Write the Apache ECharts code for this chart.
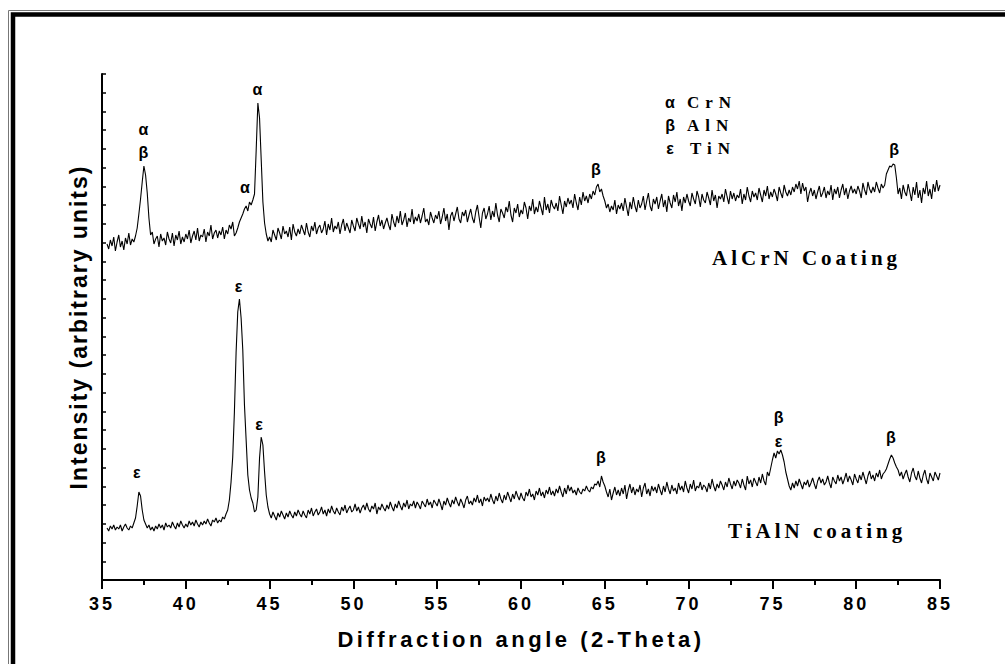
<!DOCTYPE html>
<html>
<head>
<meta charset="utf-8">
<script src="https://cdn.jsdelivr.net/npm/echarts@6.0.0/dist/echarts.min.js"></script>
<style>
  html, body { margin: 0; padding: 0; background: #fff; }
  #chart { width: 1005px; height: 664px; }
  /* spaced-out lettering like the original figure */
  #chart text[style*="22px"] { letter-spacing: 3.5px; }
  #chart text[style*="23px"] { letter-spacing: 2px; }
  #chart text[style*="21px"] { letter-spacing: 4px; }
  #chart text[style*="18px"] { letter-spacing: 3px; }
  #chart text[style*="17px"] { letter-spacing: 6px; }
</style>
</head>
<body>
<div id="chart"></div>
<script>
// scan: 35.3 .. 85.0 deg, step 0.1
const scanStart = 35.3
const scanStep = 0.1

// AlCrN coating (upper trace), one row per degree
const alcrn = [
  336, 331, 340, 334, 343, 329, 338,
  345, 333, 339, 330, 342, 336, 347, 335, 341, 338,
  344, 352, 366, 381, 398, 414, 405, 387, 362, 345,
  348, 336, 341, 344, 333, 346, 339, 342, 335, 348,
  341, 337, 347, 334, 345, 340, 349, 336, 343, 338,
  346, 341, 350, 337, 344, 349, 340, 352, 339, 345,
  343, 351, 338, 348, 344, 355, 341, 347, 350, 342,
  349, 345, 353, 341, 350, 346, 355, 351, 358, 344,
  347, 352, 358, 362, 366, 371, 374, 369, 378, 375,
  380, 386, 430, 477, 462, 420, 378, 357, 346, 339,
  343, 338, 350, 345, 340, 352, 347, 341, 354, 346,
  349, 343, 353, 340, 356, 348, 344, 351, 346, 355,
  350, 345, 357, 348, 343, 354, 349, 358, 346, 352,
  355, 347, 351, 359, 345, 356, 350, 362, 348, 354,
  351, 358, 346, 355, 361, 349, 357, 352, 347, 360,
  354, 349, 362, 356, 351, 364, 353, 358, 347, 361,
  356, 352, 363, 349, 358, 365, 354, 360, 351, 357,
  362, 355, 350, 366, 358, 353, 364, 357, 369, 355,
  360, 367, 353, 362, 358, 371, 356, 363, 359, 366,
  357, 364, 372, 358, 361, 355, 368, 362, 357, 365,
  361, 369, 356, 363, 372, 359, 366, 350, 364, 368,
  359, 366, 373, 361, 357, 368, 364, 370, 358, 365,
  371, 362, 357, 368, 375, 363, 352, 367, 372, 361,
  366, 374, 360, 369, 363, 377, 365, 358, 371, 367,
  362, 373, 368, 379, 365, 358, 372, 367, 376, 363,
  370, 366, 378, 372, 361, 374, 369, 381, 366, 373,
  368, 379, 372, 365, 383, 370, 376, 367, 380, 374,
  371, 377, 369, 384, 375, 366, 379, 373, 382, 376,
  380, 372, 386, 377, 370, 383, 375, 388, 379, 384,
  377, 386, 381, 389, 385, 393, 396, 388, 391, 384,
  379, 372, 376, 368, 374, 370, 380, 366, 375, 371,
  377, 369, 382, 373, 364, 378, 371, 383, 374, 368,
  380, 372, 376, 384, 370, 379, 387, 374, 369, 381,
  376, 383, 371, 379, 386, 373, 380, 368, 384, 377,
  372, 385, 378, 388, 374, 381, 369, 383, 377, 386,
  379, 374, 387, 381, 376, 389, 383, 373, 386, 380,
  377, 388, 382, 375, 390, 379, 385, 372, 384, 381,
  386, 378, 391, 383, 376, 389, 381, 387, 379, 385,
  382, 391, 376, 386, 380, 393, 384, 378, 389, 383,
  387, 380, 392, 385, 378, 390, 384, 394, 381, 388,
  383, 391, 386, 379, 393, 387, 382, 395, 388, 384,
  390, 385, 393, 388, 396, 391, 399, 386, 397, 389,
  393, 378, 387, 392, 384, 390, 381, 388, 394, 383,
  387, 393, 382, 389, 385, 395, 380, 391, 386, 393,
  382, 390, 396, 385, 392, 381, 389, 394, 387, 391,
  386, 394, 389, 382, 397, 390, 385, 398, 391, 387,
  393, 388, 398, 392, 387, 396, 392, 395, 406, 410,
  414, 413, 416, 415, 402, 386, 392, 381, 395, 388,
  384, 396, 388, 379, 393, 385, 398, 382, 390, 377,
  392, 386, 399, 384, 391, 381, 396, 388, 400, 389,
  395
]

// TiAlN coating (lower trace)
const tialn = [
  52, 49, 54, 51, 55, 50, 53,
  51, 55, 49, 53, 56, 52, 50, 54, 52, 57,
  62, 74, 88, 84, 70, 60, 56, 52, 55, 50,
  53, 49, 54, 51, 56, 52, 55, 50, 57, 53,
  55, 52, 58, 54, 51, 57, 53, 59, 55, 52,
  56, 53, 59, 55, 58, 54, 60, 56, 53, 58,
  55, 59, 56, 61, 57, 54, 60, 58, 62, 57,
  60, 58, 63, 61, 66, 70, 80, 98, 123, 168,
  227, 268, 281, 262, 230, 175, 140, 105, 90, 82,
  77, 68, 70, 83, 122, 143, 135, 108, 85, 73,
  66, 62, 68, 64, 60, 67, 63, 69, 65, 61,
  67, 63, 69, 65, 62, 68, 64, 70, 66, 63,
  69, 65, 62, 70, 66, 72, 64, 68, 71, 65,
  68, 73, 66, 70, 64, 71, 67, 74, 69, 66,
  72, 68, 65, 73, 69, 75, 67, 71, 74, 68,
  70, 76, 69, 73, 67, 72, 75, 70, 77, 71,
  68, 74, 71, 77, 66, 73, 70, 76, 72, 69,
  75, 71, 78, 73, 69, 76, 72, 79, 74, 70,
  77, 73, 80, 71, 76, 74, 79, 72, 78, 75,
  71, 79, 76, 73, 81, 75, 78, 72, 80, 77,
  74, 81, 76, 70, 79, 75, 82, 77, 73, 80,
  76, 83, 78, 74, 81, 77, 72, 80, 84, 76,
  79, 75, 82, 78, 85, 77, 81, 74, 83, 79,
  82, 78, 86, 80, 76, 84, 79, 87, 81, 77,
  85, 80, 88, 83, 78, 86, 81, 89, 84, 80,
  87, 82, 79, 88, 84, 91, 83, 86, 80, 89,
  85, 92, 84, 88, 82, 90, 86, 93, 85, 89,
  84, 91, 87, 94, 88, 83, 92, 86, 95, 89,
  93, 87, 90, 85, 92, 88, 86, 91, 89, 94,
  90, 88, 93, 91, 96, 95, 99, 93, 104, 98,
  94, 88, 83, 91, 80, 87, 93, 85, 90, 84,
  92, 86, 95, 81, 90, 96, 87, 93, 85, 91,
  88, 95, 83, 92, 97, 86, 91, 84, 94, 89,
  93, 87, 96, 90, 85, 94, 88, 98, 91, 86,
  95, 89, 92, 86, 97, 90, 94, 88, 99, 92,
  87, 96, 91, 100, 89, 94, 92, 98, 90, 95,
  93, 88, 97, 91, 101, 94, 89, 96, 92, 99,
  95, 90, 98, 93, 102, 96, 91, 99, 94, 100,
  97, 92, 101, 95, 90, 104, 96, 100, 93, 102,
  98, 94, 103, 97, 106, 99, 95, 108, 104, 112,
  120, 127, 122, 129, 126, 130, 125, 118, 108, 101,
  94, 90, 97, 92, 99, 94, 101, 96, 91, 98,
  95, 100, 93, 97, 102, 96, 91, 99, 103, 97,
  101, 95, 98, 104, 97, 92, 103, 99, 96, 105,
  99, 103, 96, 101, 107, 98, 104, 100, 95, 106,
  101, 97, 105, 100, 108, 102, 96, 104, 109, 101,
  105, 99, 107, 103, 110, 101, 106, 108, 111, 116,
  121, 125, 122, 117, 113, 110, 104, 108, 101, 106,
  110, 103, 98, 107, 112, 104, 100, 109, 102, 97,
  105, 110, 101, 96, 107, 103, 99, 108, 104, 100,
  107
]

// peak markers: [angle, height, phase letter]
const peakLabels = [
  [37.5, 450, 'α'], [37.5, 427, 'β'],
  [43.55, 392, 'α'], [44.3, 490, 'α'],
  [64.5, 410, 'β'], [82.3, 430, 'β'],
  [37.1, 107, 'ε'], [43.17, 293, 'ε'], [44.4, 155, 'ε'],
  [64.8, 122, 'β'], [75.4, 162, 'β'], [75.4, 138, 'ε'],
  [82.1, 142, 'β']
]

const phaseKey = [['α', 'CrN'], ['β', 'AlN'], ['ε', 'TiN']]

const yTop = 506
const yTickCount = 27

const toPairs = arr => arr.map((v, i) => [+(scanStart + i * scanStep).toFixed(1), v])

const chart = echarts.init(document.getElementById('chart'), null, { renderer: 'svg' })

const sans = '"Liberation Sans", Arial, sans-serif'
const serif = '"Liberation Serif", "Times New Roman", serif'

const graphic = [
  // double frame round the figure (right and bottom run off the page)
  { type: 'polyline', shape: { points: [[8.5, 700], [8.5, 10.5], [1010, 10.5]] }, style: { fill: null, stroke: '#777', lineWidth: 1 }, z: 10 },
  { type: 'polyline', shape: { points: [[13, 700], [13, 14.5], [1010, 14.5]] }, style: { fill: null, stroke: '#000', lineWidth: 4.5 }, z: 10 }
]
phaseKey.forEach((k, i) => {
  const y = 102 + i * 23
  graphic.push({ type: 'text', x: 670, y: y, style: { text: k[0], fill: '#000', font: 'bold 16px ' + sans, textAlign: 'center', textVerticalAlign: 'middle', verticalAlign: 'middle' } })
  graphic.push({ type: 'text', x: i === 2 ? 690 : 687, y: y, style: { text: k[1], fill: '#000', font: 'bold 17px ' + serif, textAlign: 'left', textVerticalAlign: 'middle', verticalAlign: 'middle' } })
})
graphic.push({ type: 'text', x: 712, y: 258, style: { text: 'AlCrN Coating', fill: '#000', font: 'bold 21px ' + serif, textAlign: 'left', textVerticalAlign: 'middle', verticalAlign: 'middle' } })
graphic.push({ type: 'text', x: 728, y: 531, style: { text: 'TiAlN coating', fill: '#000', font: 'bold 21px ' + serif, textAlign: 'left', textVerticalAlign: 'middle', verticalAlign: 'middle' } })

const option = {
  animation: false,
  backgroundColor: '#fff',
  grid: { left: 102, right: 65, top: 74, bottom: 84 },
  xAxis: {
    type: 'value',
    min: 35,
    max: 85,
    interval: 5,
    name: 'Diffraction angle (2-Theta)',
    nameLocation: 'middle',
    nameGap: 48,
    nameTextStyle: { fontFamily: sans, fontSize: 22, fontWeight: 'bold', color: '#000' },
    axisLine: { lineStyle: { color: '#000', width: 2 } },
    axisTick: { length: 9, lineStyle: { color: '#000', width: 2 } },
    minorTick: { show: true, splitNumber: 2, length: 5, lineStyle: { color: '#000', width: 2 } },
    axisLabel: { fontFamily: sans, fontSize: 18, fontWeight: 'bold', color: '#000', margin: 15 },
    splitLine: { show: false }
  },
  yAxis: {
    type: 'value',
    min: 0,
    max: yTop,
    interval: yTop / yTickCount,
    name: 'Intensity (arbitrary units)',
    nameLocation: 'middle',
    nameRotate: 90,
    nameGap: 12,
    nameTextStyle: { fontFamily: sans, fontSize: 23, fontWeight: 'bold', color: '#000' },
    axisLine: { show: true, lineStyle: { color: '#000', width: 2 } },
    axisTick: { show: true, inside: true, length: 4, lineStyle: { color: '#000', width: 1.5 } },
    axisLabel: { show: false },
    splitLine: { show: false }
  },
  graphic: graphic,
  series: [
    {
      name: 'AlCrN Coating',
      type: 'line',
      data: toPairs(alcrn),
      showSymbol: false,
      symbol: 'none',
      lineStyle: { color: '#000', width: 1.1 }
    },
    {
      name: 'TiAlN coating',
      type: 'line',
      data: toPairs(tialn),
      showSymbol: false,
      symbol: 'none',
      lineStyle: { color: '#000', width: 1.1 }
    },
    {
      name: 'phases',
      type: 'scatter',
      symbol: 'circle',
      symbolSize: 1,
      silent: true,
      data: peakLabels.map(p => ({ value: [p[0], p[1]], name: p[2] })),
      itemStyle: { color: 'rgba(0,0,0,0)' },
      label: {
        show: true,
        position: [0, 0],
        align: 'center',
        verticalAlign: 'middle',
        formatter: p => p.name,
        fontFamily: sans,
        fontSize: 16,
        fontWeight: 'bold',
        color: '#000',
        opacity: 1,
        textBorderWidth: 0
      }
    }
  ]
}

chart.setOption(option)
</script>
</body>
</html>
